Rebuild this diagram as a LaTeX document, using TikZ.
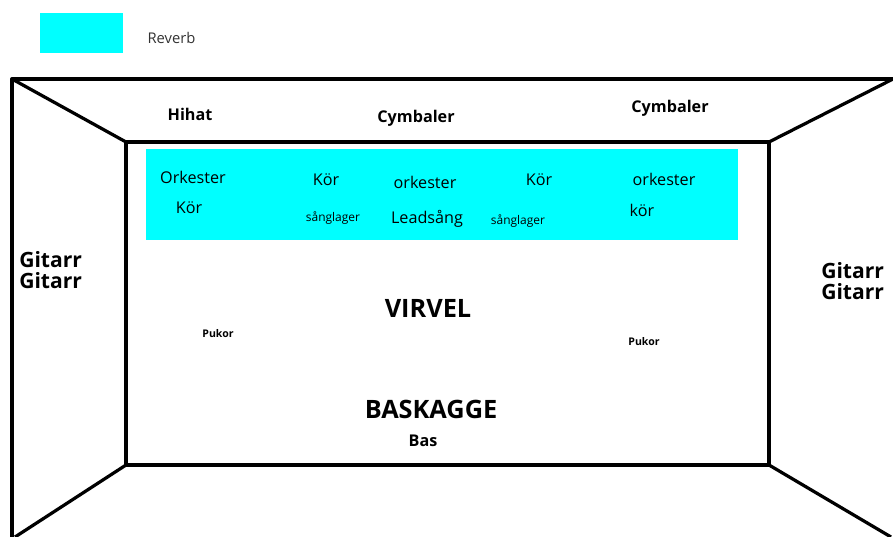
\documentclass[tikz,border=0pt]{standalone}
\usepackage{fontspec}
\setmainfont{Open Sans}
\usetikzlibrary{positioning}
\definecolor{reverbcol}{RGB}{0,255,255}

\begin{document}
\begin{tikzpicture}[
    x=0.025cm, y=-0.025cm,
    wall/.style={line width=2.3pt, line join=round},
    zone/.style={fill=reverbcol, draw=none},
    voice/.style={font=\fontsize{11.5}{13}\selectfont, inner sep=0pt},
    layer/.style={font=\fontsize{8.5}{10}\selectfont, inner sep=0pt},
    drum/.style={font=\fontsize{11.5}{13}\selectfont\bfseries, inner sep=0pt},
    drumbig/.style={font=\fontsize{18}{20}\selectfont\bfseries, inner sep=0pt},
    perc/.style={font=\fontsize{7.5}{9}\selectfont\bfseries, inner sep=0pt},
    guitar/.style={font=\fontsize{15}{15}\selectfont\bfseries, align=left, inner sep=0pt}
]
    \useasboundingbox (0,0) rectangle (893,537);

    % legend
    \node [zone, minimum width=2.075cm, minimum height=1cm] (key) at (81.5,33) {};
    \node [voice, right=0.6cm of key, yshift=-0.12cm, font=\fontsize{10.5}{12}\selectfont, text=black!80] (keytext) {Reverb};

    % room corners
    \coordinate (otl) at (12,79);
    \coordinate (otr) at (893,79);
    \coordinate (obl) at (12,537);
    \coordinate (obl2) at (15,537);
    \coordinate (obr) at (891,537);
    \coordinate (itl) at (126,142);
    \coordinate (itr) at (769,142);
    \coordinate (ibl) at (126,465);
    \coordinate (ibr) at (769,465);

    % reverb area on the back wall
    \fill [reverbcol] (146,149) rectangle (738,240);

    % walls
    \draw [wall] (obl) -- (otl) -- (otr);
    \draw [wall] (itl) rectangle (ibr);
    \draw [wall] (otl) -- (itl);
    \draw [wall] (otr) -- (itr);
    \draw [wall] (obl2) -- (ibl);
    \draw [wall] (obr) -- (ibr);

    % ceiling
    \node [drum] (hihat) at (190,114) {Hihat};
    \node [drum] (cymb1) at (416,118) {Cymbaler};
    \node [drum] (cymb2) at (670,108) {Cymbaler};

    % back wall
    \node [voice] (ork1) at (193,177) {Orkester};
    \node [voice] (kor1) at (189,208) {Kör};
    \node [voice] (kor2) at (326,180) {Kör};
    \node [layer] (sang1) at (333,218) {sånglager};
    \node [voice] (ork2) at (425,182) {orkester};
    \node [voice] (lead) at (427,219) {Leadsång};
    \node [voice] (kor3) at (539,180) {Kör};
    \node [layer] (sang2) at (518,221) {sånglager};
    \node [voice] (ork3) at (664,179) {orkester};
    \node [voice] (kor4) at (642,210) {kör};

    % floor
    \node [drumbig] (virvel) at (428,308) {VIRVEL};
    \node [perc] (puk1) at (218,334) {Pukor};
    \node [perc] (puk2) at (644,342) {Pukor};
    \node [drumbig] (bask) at (431,409) {BASKAGGE};
    \node [drum] (bas) at (423,441) {Bas};

    % side walls
    \node [guitar, anchor=west] (git1) at (19,270) {Gitarr\\Gitarr};
    \node [guitar, anchor=west] (git2) at (821,281) {Gitarr\\Gitarr};
\end{tikzpicture}
\end{document}
